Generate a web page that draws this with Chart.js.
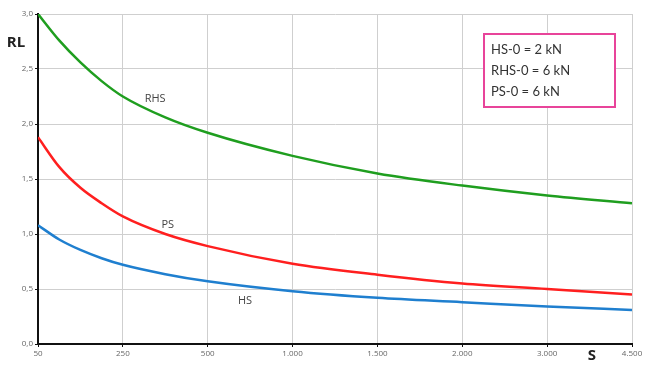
<!DOCTYPE html>
<html>
<head>
<meta charset="utf-8">
<script src="https://cdn.jsdelivr.net/npm/chart.js@4.4.1/dist/chart.umd.min.js"></script>
<style>
html,body{margin:0;padding:0;background:#fff;}
#wrap{position:relative;width:647px;height:367px;}
</style>
</head>
<body>
<div id="wrap"><canvas id="c" width="647" height="367"></canvas></div>
<script>
// Category tick labels (evenly spaced on the S axis)
const sLabels = ['50', '250', '500', '1.000', '1.500', '2.000', '3.000', '4.500'];
// Sample positions along the axis (index units: 0 = "50", 1 = "250", ...)
const sPos = [0, 0.25, 0.5, 0.75, 1, 1.5, 2, 3, 4, 5, 6, 7];
// Series values at those positions
const rhsValues = [3.00, 2.76, 2.56, 2.39, 2.25, 2.06, 1.92, 1.71, 1.55, 1.44, 1.35, 1.28];
const psValues  = [1.88, 1.61, 1.42, 1.28, 1.16, 1.00, 0.89, 0.73, 0.63, 0.55, 0.50, 0.45];
const hsValues  = [1.08, 0.95, 0.855, 0.78, 0.72, 0.635, 0.57, 0.48, 0.42, 0.38, 0.34, 0.31];
const legendLines = ['HS-0 = 2 kN', 'RHS-0 = 6 kN', 'PS-0 = 6 kN'];

const toPts = vals => vals.map((v, i) => ({x: sPos[i], y: v}));

const overlay = {
  id: 'overlay',
  afterDraw(chart) {
    const ctx = chart.ctx;
    const xs = chart.scales.x, ys = chart.scales.y;
    ctx.save();
    ctx.textAlign = 'center';
    ctx.textBaseline = 'middle';
    // curve labels
    ctx.fillStyle = '#444';
    ctx.font = '11px "Open Sans", sans-serif';
    ctx.fillText('RHS', xs.getPixelForValue(1.38), ys.getPixelForValue(2.23));
    ctx.fillText('PS', xs.getPixelForValue(1.53), ys.getPixelForValue(1.08));
    ctx.fillText('HS', xs.getPixelForValue(2.44), ys.getPixelForValue(0.39));
    // axis titles
    ctx.fillStyle = '#222';
    ctx.font = 'bold 15px "Open Sans", sans-serif';
    ctx.fillText('RL', 16, 43);
    ctx.fillText('S', 592, 356);
    // legend box
    ctx.strokeStyle = '#e8449a';
    ctx.lineWidth = 2;
    ctx.fillStyle = '#fff';
    ctx.fillRect(484, 34, 131, 73);
    ctx.strokeRect(484, 34, 131, 73);
    ctx.fillStyle = '#333';
    ctx.textAlign = 'left';
    ctx.font = '13px Lato, sans-serif';
    legendLines.forEach((t, i) => ctx.fillText(t, 491, 50 + i * 21));
    ctx.restore();
  }
};

const mk = (label, vals, color) => ({
  label, data: toPts(vals), borderColor: color, backgroundColor: color,
  borderWidth: 2.5, pointRadius: 0, cubicInterpolationMode: 'monotone', fill: false
});

new Chart(document.getElementById('c'), {
  type: 'line',
  data: {
    datasets: [
      mk('RHS', rhsValues, '#1f9e1f'),
      mk('PS', psValues, '#ff1f1f'),
      mk('HS', hsValues, '#1f7fcf')
    ]
  },
  options: {
    responsive: false,
    animation: false,
    layout: {padding: {top: 14, right: 15, left: 0, bottom: 0}},
    plugins: {legend: {display: false}, tooltip: {enabled: false}},
    scales: {
      x: {
        type: 'linear', min: 0, max: 7,
        afterBuildTicks(s) { s.ticks = sLabels.map((_, i) => ({value: i})); },
        afterFit(s) { s.height = 23; },
        ticks: {
          callback: v => sLabels[v] ?? '',
          color: '#666', font: {size: 8, family: '"Open Sans", sans-serif'},
          padding: 2, maxRotation: 0, autoSkip: false
        },
        grid: {color: '#cfcfcf', lineWidth: 1, tickLength: 3, tickColor: '#111'},
        border: {color: '#111', width: 2}
      },
      y: {
        min: 0, max: 3,
        afterFit(s) { s.width = 38; },
        ticks: {
          stepSize: 0.5,
          callback: v => v.toFixed(1).replace('.', ','),
          color: '#666', font: {size: 8, family: '"Open Sans", sans-serif'},
          padding: 2
        },
        grid: {color: '#cfcfcf', lineWidth: 1, tickLength: 3, tickColor: '#111'},
        border: {color: '#111', width: 2}
      }
    }
  },
  plugins: [overlay]
});
</script>
</body>
</html>
